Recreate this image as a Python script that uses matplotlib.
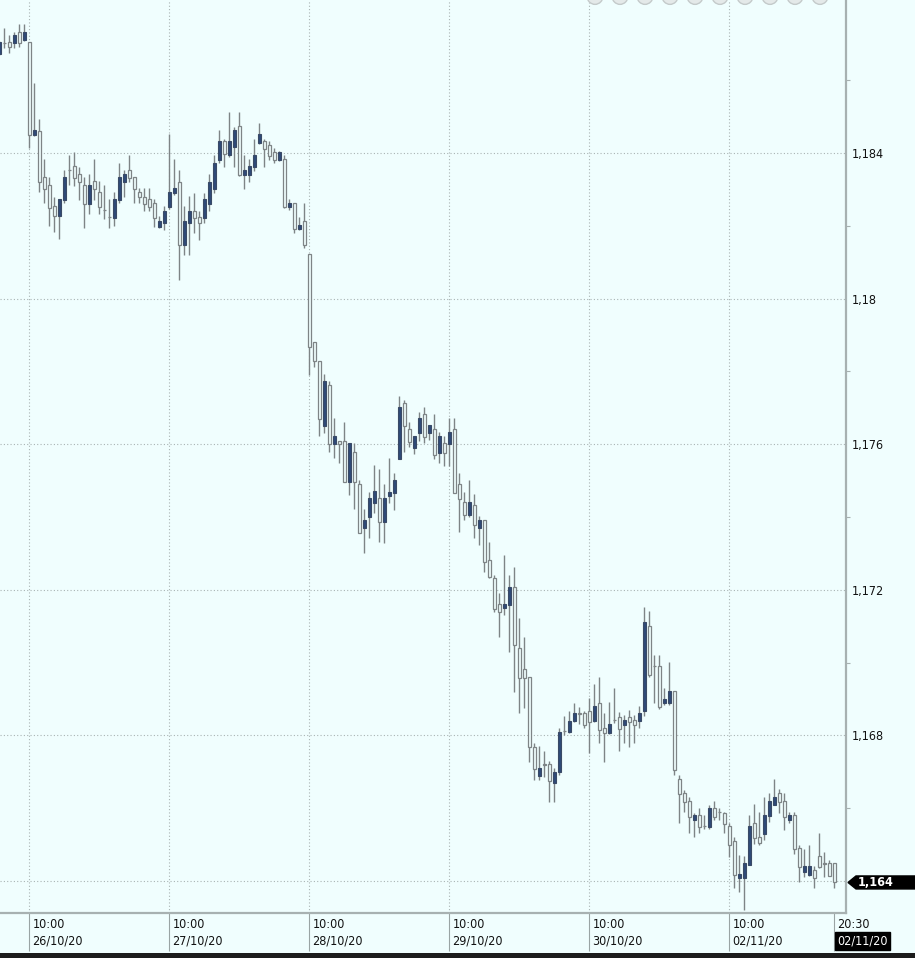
import numpy as np
import matplotlib
matplotlib.use('Agg')
import matplotlib.pyplot as plt
import matplotlib.transforms as mtransforms
from matplotlib.patches import Polygon, Rectangle, Circle
from matplotlib.ticker import FixedLocator, FuncFormatter

plt.rcParams['font.family'] = ['Liberation Sans Narrow', 'DejaVu Sans']
plt.rcParams['font.stretch'] = 'condensed'

# 30-min bars, EUR/USD style quotes
opens = [
    1.18672, 1.18703, 1.18706, 1.18701, 1.18732, 1.18710, 1.18704, 1.18449, 1.18461, 1.18333,
    1.18312, 1.18254, 1.18228, 1.18271, 1.18353, 1.18364, 1.18341, 1.18312, 1.18259, 1.18323,
    1.18292, 1.18243, 1.18224, 1.18222, 1.18271, 1.18320, 1.18353, 1.18333, 1.18292, 1.18280,
    1.18273, 1.18262, 1.18198, 1.18209, 1.18251, 1.18289, 1.18321, 1.18147, 1.18209, 1.18241,
    1.18223, 1.18221, 1.18260, 1.18300, 1.18381, 1.18433, 1.18395, 1.18417, 1.18474, 1.18340,
    1.18340, 1.18361, 1.18428, 1.18433, 1.18422, 1.18402, 1.18381, 1.18383, 1.18251, 1.18262,
    1.18190, 1.18213, 1.18123, 1.17882, 1.17829, 1.17650, 1.17763, 1.17601, 1.17610, 1.17610,
    1.17497, 1.17579, 1.17491, 1.17369, 1.17399, 1.17438, 1.17451, 1.17387, 1.17458, 1.17467,
    1.17559, 1.17712, 1.17641, 1.17589, 1.17630, 1.17683, 1.17630, 1.17641, 1.17577, 1.17602,
    1.17601, 1.17641, 1.17491, 1.17441, 1.17406, 1.17433, 1.17369, 1.17392, 1.17282, 1.17232,
    1.17160, 1.17149, 1.17157, 1.17209, 1.17039, 1.16982, 1.16960, 1.16769, 1.16688, 1.16721,
    1.16721, 1.16669, 1.16700, 1.16813, 1.16810, 1.16840, 1.16861, 1.16861, 1.16868, 1.16839,
    1.16890, 1.16820, 1.16807, 1.16842, 1.16850, 1.16829, 1.16850, 1.16842, 1.16840, 1.16867,
    1.17101, 1.16991, 1.16991, 1.16888, 1.16888, 1.16922, 1.16679, 1.16641, 1.16621, 1.16568,
    1.16580, 1.16551, 1.16548, 1.16600, 1.16590, 1.16588, 1.16551, 1.16509, 1.16408, 1.16408,
    1.16444, 1.16559, 1.16521, 1.16529, 1.16579, 1.16609, 1.16642, 1.16620, 1.16568, 1.16581,
    1.16491, 1.16426, 1.16417, 1.16430, 1.16470, 1.16449, 1.16449, 1.16449,
]
highs = [
    1.18708, 1.18743, 1.18724, 1.18733, 1.18754, 1.18754, 1.18705, 1.18591, 1.18493, 1.18384,
    1.18333, 1.18280, 1.18274, 1.18353, 1.18395, 1.18404, 1.18362, 1.18333, 1.18341, 1.18384,
    1.18323, 1.18312, 1.18274, 1.18294, 1.18372, 1.18353, 1.18395, 1.18334, 1.18303, 1.18303,
    1.18303, 1.18273, 1.18227, 1.18254, 1.18452, 1.18383, 1.18353, 1.18254, 1.18282, 1.18291,
    1.18241, 1.18291, 1.18342, 1.18395, 1.18463, 1.18438, 1.18512, 1.18472, 1.18512, 1.18395,
    1.18383, 1.18438, 1.18482, 1.18438, 1.18433, 1.18413, 1.18405, 1.18395, 1.18273, 1.18263,
    1.18224, 1.18263, 1.18123, 1.17882, 1.17829, 1.17792, 1.17774, 1.17671, 1.17610, 1.17660,
    1.17602, 1.17602, 1.17502, 1.17421, 1.17469, 1.17543, 1.17531, 1.17491, 1.17561, 1.17520,
    1.17732, 1.17721, 1.17662, 1.17623, 1.17689, 1.17701, 1.17653, 1.17683, 1.17634, 1.17623,
    1.17672, 1.17671, 1.17520, 1.17469, 1.17502, 1.17462, 1.17403, 1.17392, 1.17330, 1.17241,
    1.17190, 1.17296, 1.17241, 1.17263, 1.17122, 1.17070, 1.16960, 1.16780, 1.16771, 1.16758,
    1.16730, 1.16710, 1.16820, 1.16852, 1.16868, 1.16890, 1.16877, 1.16868, 1.16902, 1.16941,
    1.16960, 1.16861, 1.16891, 1.16930, 1.16865, 1.16856, 1.16870, 1.16856, 1.16881, 1.17154,
    1.17143, 1.17021, 1.17021, 1.16931, 1.17003, 1.16922, 1.16691, 1.16650, 1.16632, 1.16586,
    1.16600, 1.16580, 1.16609, 1.16621, 1.16600, 1.16590, 1.16560, 1.16520, 1.16472, 1.16469,
    1.16581, 1.16612, 1.16590, 1.16632, 1.16641, 1.16679, 1.16653, 1.16642, 1.16590, 1.16590,
    1.16500, 1.16489, 1.16500, 1.16441, 1.16531, 1.16479, 1.16459, 1.16449,
]
lows = [
    1.18669, 1.18688, 1.18675, 1.18688, 1.18692, 1.18708, 1.18413, 1.18448, 1.18294, 1.18262,
    1.18200, 1.18182, 1.18164, 1.18262, 1.18312, 1.18310, 1.18271, 1.18193, 1.18232, 1.18271,
    1.18232, 1.18219, 1.18193, 1.18200, 1.18262, 1.18280, 1.18321, 1.18262, 1.18262, 1.18241,
    1.18241, 1.18198, 1.18194, 1.18188, 1.18246, 1.18285, 1.18051, 1.18120, 1.18120, 1.18179,
    1.18161, 1.18209, 1.18241, 1.18291, 1.18372, 1.18362, 1.18390, 1.18362, 1.18337, 1.18300,
    1.18321, 1.18351, 1.18425, 1.18362, 1.18381, 1.18372, 1.18378, 1.18249, 1.18243, 1.18181,
    1.18188, 1.18138, 1.17790, 1.17813, 1.17623, 1.17630, 1.17579, 1.17561, 1.17549, 1.17497,
    1.17460, 1.17421, 1.17357, 1.17300, 1.17341, 1.17410, 1.17332, 1.17329, 1.17438, 1.17419,
    1.17559, 1.17579, 1.17591, 1.17573, 1.17610, 1.17603, 1.17612, 1.17559, 1.17549, 1.17540,
    1.17540, 1.17467, 1.17360, 1.17392, 1.17401, 1.17341, 1.17322, 1.17250, 1.17232, 1.17140,
    1.17069, 1.17132, 1.17030, 1.16920, 1.16861, 1.16875, 1.16728, 1.16677, 1.16677, 1.16687,
    1.16618, 1.16618, 1.16691, 1.16801, 1.16807, 1.16838, 1.16831, 1.16820, 1.16751, 1.16838,
    1.16780, 1.16728, 1.16804, 1.16833, 1.16758, 1.16780, 1.16769, 1.16780, 1.16820, 1.16852,
    1.16960, 1.16890, 1.16873, 1.16884, 1.16884, 1.16691, 1.16559, 1.16590, 1.16531, 1.16520,
    1.16531, 1.16542, 1.16543, 1.16568, 1.16568, 1.16531, 1.16467, 1.16380, 1.16369, 1.16321,
    1.16444, 1.16502, 1.16500, 1.16513, 1.16562, 1.16609, 1.16587, 1.16539, 1.16559, 1.16474,
    1.16398, 1.16411, 1.16414, 1.16380, 1.16436, 1.16411, 1.16413, 1.16380,
]
closes = [
    1.18705, 1.18702, 1.18690, 1.18724, 1.18701, 1.18732, 1.18449, 1.18462, 1.18321, 1.18301,
    1.18250, 1.18228, 1.18274, 1.18333, 1.18353, 1.18330, 1.18320, 1.18259, 1.18312, 1.18300,
    1.18251, 1.18243, 1.18224, 1.18274, 1.18333, 1.18342, 1.18330, 1.18300, 1.18278, 1.18259,
    1.18251, 1.18221, 1.18213, 1.18241, 1.18292, 1.18303, 1.18147, 1.18213, 1.18241, 1.18221,
    1.18209, 1.18273, 1.18321, 1.18372, 1.18433, 1.18397, 1.18433, 1.18463, 1.18340, 1.18353,
    1.18364, 1.18395, 1.18452, 1.18410, 1.18392, 1.18381, 1.18402, 1.18251, 1.18262, 1.18190,
    1.18201, 1.18147, 1.17868, 1.17829, 1.17668, 1.17774, 1.17601, 1.17623, 1.17601, 1.17497,
    1.17602, 1.17497, 1.17357, 1.17392, 1.17451, 1.17471, 1.17387, 1.17451, 1.17469, 1.17502,
    1.17701, 1.17650, 1.17607, 1.17623, 1.17671, 1.17619, 1.17653, 1.17569, 1.17623, 1.17577,
    1.17634, 1.17467, 1.17449, 1.17406, 1.17441, 1.17377, 1.17392, 1.17277, 1.17236, 1.17148,
    1.17138, 1.17160, 1.17209, 1.17047, 1.16957, 1.16957, 1.16767, 1.16707, 1.16710, 1.16720,
    1.16676, 1.16700, 1.16810, 1.16812, 1.16840, 1.16861, 1.16860, 1.16829, 1.16838, 1.16881,
    1.16816, 1.16807, 1.16830, 1.16841, 1.16817, 1.16842, 1.16838, 1.16829, 1.16861, 1.17111,
    1.16966, 1.16990, 1.16877, 1.16900, 1.16922, 1.16705, 1.16639, 1.16616, 1.16577, 1.16580,
    1.16548, 1.16550, 1.16600, 1.16577, 1.16589, 1.16557, 1.16499, 1.16417, 1.16419, 1.16449,
    1.16551, 1.16517, 1.16505, 1.16581, 1.16620, 1.16632, 1.16616, 1.16577, 1.16581, 1.16487,
    1.16438, 1.16441, 1.16441, 1.16408, 1.16438, 1.16448, 1.16414, 1.16396,
]

# session markers on the time axis (bar index, label)
tick_bars = [6, 34, 62, 90, 118, 146]
tick_times = ['10:00', '10:00', '10:00', '10:00', '10:00', '10:00']
tick_dates = ['26/10/20', '27/10/20', '28/10/20', '29/10/20', '30/10/20', '02/11/20']
last_time = '20:30'
last_date = '02/11/20'

price_ticks = [1.164, 1.168, 1.172, 1.176, 1.180, 1.184]
price_minor = [1.166, 1.170, 1.174, 1.178, 1.182, 1.186]

bg = '#F0FEFE'
up_col = '#2F4B78'
edge_col = '#7E8486'
grid_col = '#A9B3B3'

W, H = 915, 958
fig = plt.figure(figsize=(W / 100, H / 100), dpi=100, facecolor=bg)
ax = fig.add_axes([0, 45 / H, 846 / W, 1 - 45 / H])
ax.set_facecolor(bg)

o = np.array(opens)
h = np.array(highs)
l = np.array(lows)
c = np.array(closes)
x = np.arange(len(o))
up = c > o

ax.vlines(x, l, h, color=edge_col, linewidth=1.0, zorder=2)
body_lo = np.minimum(o, c)
body_hi = np.maximum(o, c)
ax.bar(x[up], (body_hi - body_lo)[up], bottom=body_lo[up], width=0.62,
       color=up_col, edgecolor='#3A4A66', linewidth=0.8, zorder=3)
ax.bar(x[~up], (body_hi - body_lo)[~up], bottom=body_lo[~up], width=0.62,
       color=bg, edgecolor=edge_col, linewidth=0.9, zorder=3)

ax.set_xlim(0.14, 169.34)
ax.set_ylim(1.163121, 1.188203)

# grid
for t in tick_bars:
    ax.axvline(t, color=grid_col, linewidth=0.8, linestyle=(0, (1, 2)), zorder=1)
for p in price_ticks:
    ax.axhline(p, color=grid_col, linewidth=0.8, linestyle=(0, (1, 2)), zorder=1)

# spines
for s in ['top', 'left']:
    ax.spines[s].set_visible(False)
for s in ['right', 'bottom']:
    ax.spines[s].set_color('#A7B1B1')
    ax.spines[s].set_linewidth(1.6)

last = closes[-1]

def fmt(v, pos=None):
    return ('%.3f' % v).rstrip('0').replace('.', ',')

def axis_fmt(v, pos=None):
    # the label under the last-price tag is hidden by the tag
    if abs(v - last) < 0.0004:
        return ''
    return fmt(v)

# y axis on the right
ax.yaxis.tick_right()
ax.yaxis.set_major_locator(FixedLocator(price_ticks))
ax.yaxis.set_minor_locator(FixedLocator(price_minor))
ax.yaxis.set_major_formatter(FuncFormatter(axis_fmt))
ax.tick_params(axis='y', which='major', length=0, pad=4, labelsize=9, labelcolor='#111111')
ax.tick_params(axis='y', which='minor', length=3, color='#A7B1B1', width=0.8)

# x axis: long tick lines, labels drawn as text
ax.set_xticks(tick_bars + [len(o) - 1])
ax.tick_params(axis='x', length=27, width=0.8, color='#9AA4A4', labelbottom=False)

tr = mtransforms.blended_transform_factory(ax.transData, fig.transFigure)
tr_off = mtransforms.offset_copy(tr, fig=fig, x=3, y=0, units='dots')
y1 = 1 - 924 / H
y2 = 1 - 941 / H
for t, tm, d in zip(tick_bars, tick_times, tick_dates):
    fig.text(t, y1, tm, transform=tr_off, ha='left', va='center', fontsize=9, color='#111111')
    fig.text(t, y2, d, transform=tr_off, ha='left', va='center', fontsize=9, color='#111111')
fig.text(len(o) - 1, y1, last_time, transform=tr_off, ha='left', va='center',
         fontsize=9, color='#111111')
fig.text(len(o) - 1, y2, last_date, transform=tr_off, ha='left', va='center',
         fontsize=9, color='white',
         bbox=dict(boxstyle='square,pad=0.2', fc='black', ec='black'))

# last price tag on the right axis
trp = mtransforms.blended_transform_factory(fig.transFigure, ax.transData)
hh = 6.5 / 36400
tag = Polygon([(848 / W, last), (856 / W, last + hh), (1.0, last + hh),
               (1.0, last - hh), (856 / W, last - hh)], closed=True,
              transform=trp, facecolor='black', edgecolor='black', clip_on=False, zorder=10)
fig.patches.append(tag)
fig.text(858 / W, last, fmt(last), transform=trp, ha='left', va='center',
         fontsize=9, color='white', fontweight='bold', zorder=11)

# dark strip at the very bottom
fig.patches.append(Rectangle((0, 0), 1, 5 / H, transform=fig.transFigure,
                             facecolor='#1C1C1C', edgecolor='none'))

# toolbar dots at the top edge
for k in range(10):
    fig.patches.append(Circle(((595 + 25 * k) / W, 1 + 4 / H), 8 / W,
                              transform=fig.transFigure, facecolor='#E4E9E9',
                              edgecolor='#C4CACA', linewidth=1.0, clip_on=False))

fig.savefig('out.png', dpi=100, facecolor=bg)
